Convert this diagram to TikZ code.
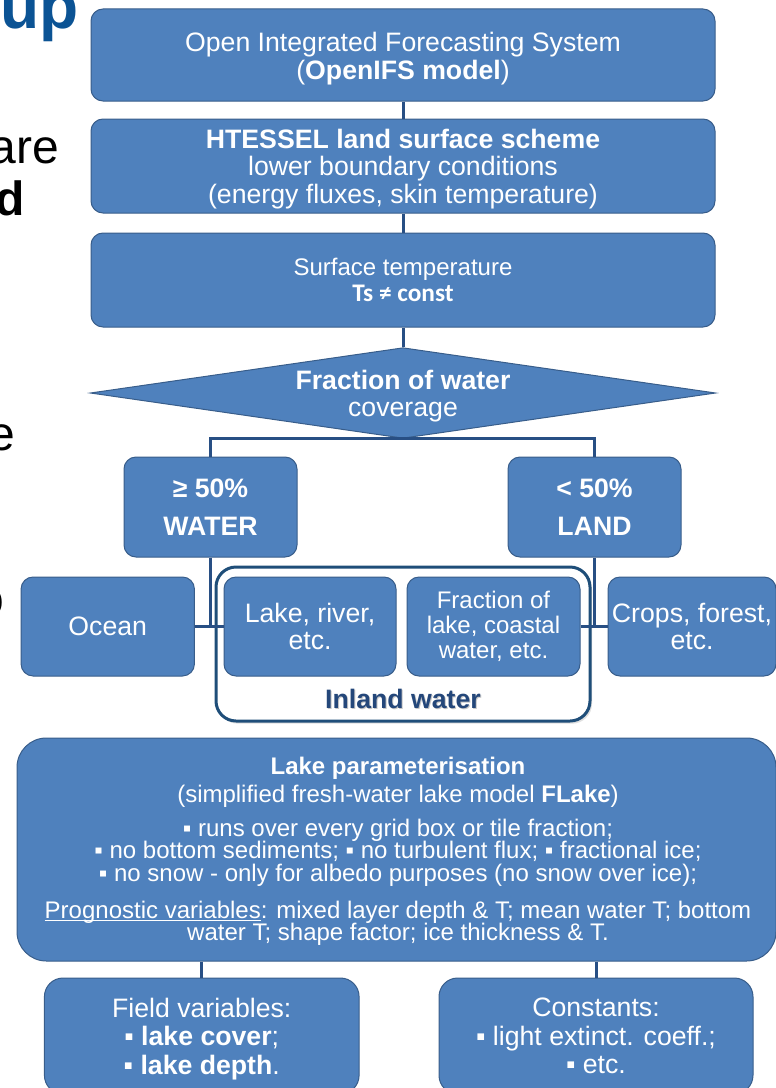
\documentclass[tikz,border=0pt]{standalone}
\usepackage{fontspec}
\setmainfont{Liberation Sans}
\newfontfamily\carl{Carlito}
\usetikzlibrary{shapes.geometric,shadows}
\definecolor{boxc}{HTML}{4F81BD}
\definecolor{bordc}{HTML}{385D8A}
\definecolor{linec}{HTML}{284F84}
\definecolor{inlc}{HTML}{1F4E79}
\definecolor{inltxt}{HTML}{24477A}
\definecolor{upc}{HTML}{0B5394}
\newcommand\myul[1]{\setbox0\hbox{#1}\rlap{\rule[-2pt]{\wd0}{0.8pt}}\box0}
\begin{document}
\begin{tikzpicture}[x=0.75pt,y=-0.75pt,
  box/.style={draw=bordc, line width=0.75pt, fill=boxc, rounded corners=9pt, text=white, align=center, inner sep=0pt, font=\fontsize{20}{21}\selectfont},
  lbl/.style={text=white, align=center, inner sep=0pt, font=\fontsize{20}{21}\selectfont},
  conn/.style={draw=linec, line width=2.25pt},
  frag/.style={anchor=base east, inner sep=0pt, font=\fontsize{36}{36}\selectfont}]
\useasboundingbox (0,0) rectangle (775,1088);

% cut-off slide text on the left
\node[frag, text=upc, font=\bfseries\fontsize{48}{48}\selectfont] (fup) at (79,29) {up};
\node[frag] (fare) at (59,163) {are};
\node[frag, font=\bfseries\fontsize{36}{36}\selectfont] (fd) at (25,215) {d};
\node[frag] (fe) at (15,450) {e};
\node[frag] (fo) at (4,615) {o};

% main chain
\node[box, minimum width=468pt, minimum height=69pt] (ifs) at (403,55) {};
\node[lbl] (ifstxt) at (403,59) {Open Integrated Forecasting System\\(\textbf{OpenIFS model})};
\node[box, minimum width=468pt, minimum height=70.5pt] (hts) at (403,166) {};
\node[lbl, font=\fontsize{20}{20.6}\selectfont] (htstxt) at (403,169) {\textbf{HTESSEL land surface scheme}\\lower boundary conditions\\(energy fluxes, skin temperature)};
\node[box, minimum width=468pt, minimum height=70.5pt, font=\fontsize{18}{19.5}\selectfont] (ts) at (403,280) {Surface temperature\\{\carl\bfseries\fontsize{19}{19.5}\selectfont Ts ≠ const}};
\node[diamond, draw=bordc, fill=boxc, line width=0.75pt, minimum width=469pt, minimum height=68pt, inner sep=0pt] (dia) at (403,393) {};
\node[lbl, font=\fontsize{20}{20.5}\selectfont] (diatxt) at (403,396) {\textbf{Fraction of water}\\coverage};

\node[box, minimum width=129.75pt, minimum height=75pt] (water) at (210.5,507) {\textbf{≥ 50\%}\\[7.5pt]\textbf{WATER}};
\node[box, minimum width=129.75pt, minimum height=75pt] (land) at (594.5,507) {\textbf{< 50\%}\\[7.5pt]\textbf{LAND}};

% inland water frame
\node[draw=inlc, line width=2.25pt, fill=white, rounded corners=15pt, minimum width=280.5pt, minimum height=115.5pt, drop shadow={shadow xshift=1.5pt, shadow yshift=-2pt, fill=black!25}] (inland) at (403,644) {};
\node[text=black!22, font=\bfseries\fontsize{20}{21}\selectfont, inner sep=0pt] (inlshadow) at (404,700) {Inland water};
\node[text=inltxt, font=\bfseries\fontsize{20}{21}\selectfont, inner sep=0pt] (inltext) at (403,699) {Inland water};

\node[box, minimum width=130pt, minimum height=74.25pt] (ocean) at (107.75,626.5) {Ocean};
\node[box, minimum width=129pt, minimum height=74.25pt, font=\fontsize{20}{20.2}\selectfont] (lake) at (310,626.5) {Lake, river,\\etc.};
\node[box, minimum width=129.75pt, minimum height=74.25pt, font=\fontsize{18}{18.75}\selectfont] (frac) at (493.5,626.5) {Fraction of\\lake, coastal\\water, etc.};
\node[box, minimum width=126pt, minimum height=74.25pt, font=\fontsize{20}{20.2}\selectfont] (crops) at (692,626.5) {Crops, forest,\\etc.};

% lake parameterisation
\node[box, rounded corners=22pt, minimum width=569.25pt, minimum height=167.25pt] (param) at (396.5,849.5) {};
\node[lbl, font=\fontsize{18}{17}\selectfont] (paramtxt) at (398,851.5) {\textbf{Lake parameterisation}\\[3.8pt]
(simplified fresh-water lake model \textbf{FLake})\\[8.4pt]
▪ runs over every grid box or tile fraction;\\
▪ no bottom sediments; ▪ no turbulent flux; ▪ fractional ice;\\
▪ no snow - only for albedo purposes (no snow over ice);\\[10.6pt]
\myul{Prognostic variables}: mixed layer depth \& T; mean water T; bottom\\
water T; shape factor; ice thickness \& T.};

\node[box, rounded corners=14pt, minimum width=236pt, minimum height=87pt] (field) at (201.75,1036) {};
\node[lbl, font=\fontsize{20}{21.4}\selectfont] (fieldtxt) at (201.75,1039) {Field variables:\\▪ \textbf{lake cover};\\▪ \textbf{lake depth}.};
\node[box, rounded corners=14pt, minimum width=235.5pt, minimum height=87pt, font=\fontsize{20}{21.4}\selectfont] (const) at (596,1036) {Constants:\\▪ light extinct. coeff.;\\▪ etc.};

% connectors
\draw[conn] (ifs.south) -- (hts.north);
\draw[conn] (hts.south) -- (ts.north);
\draw[conn] (ts.south) -- (dia.north);
\draw[conn] (water.north) |- (dia.south) -| (land.north);
\draw[conn] (water.south) -- (water.south |- ocean.east);
\draw[conn] (ocean.east) -- (lake.west);
\draw[conn] (land.south) -- (land.south |- crops.west);
\draw[conn] (frac.east) -- (crops.west);
\draw[conn] (param.south -| field.north) -- (field.north);
\draw[conn] (param.south -| const.north) -- (const.north);
\end{tikzpicture}
\end{document}
